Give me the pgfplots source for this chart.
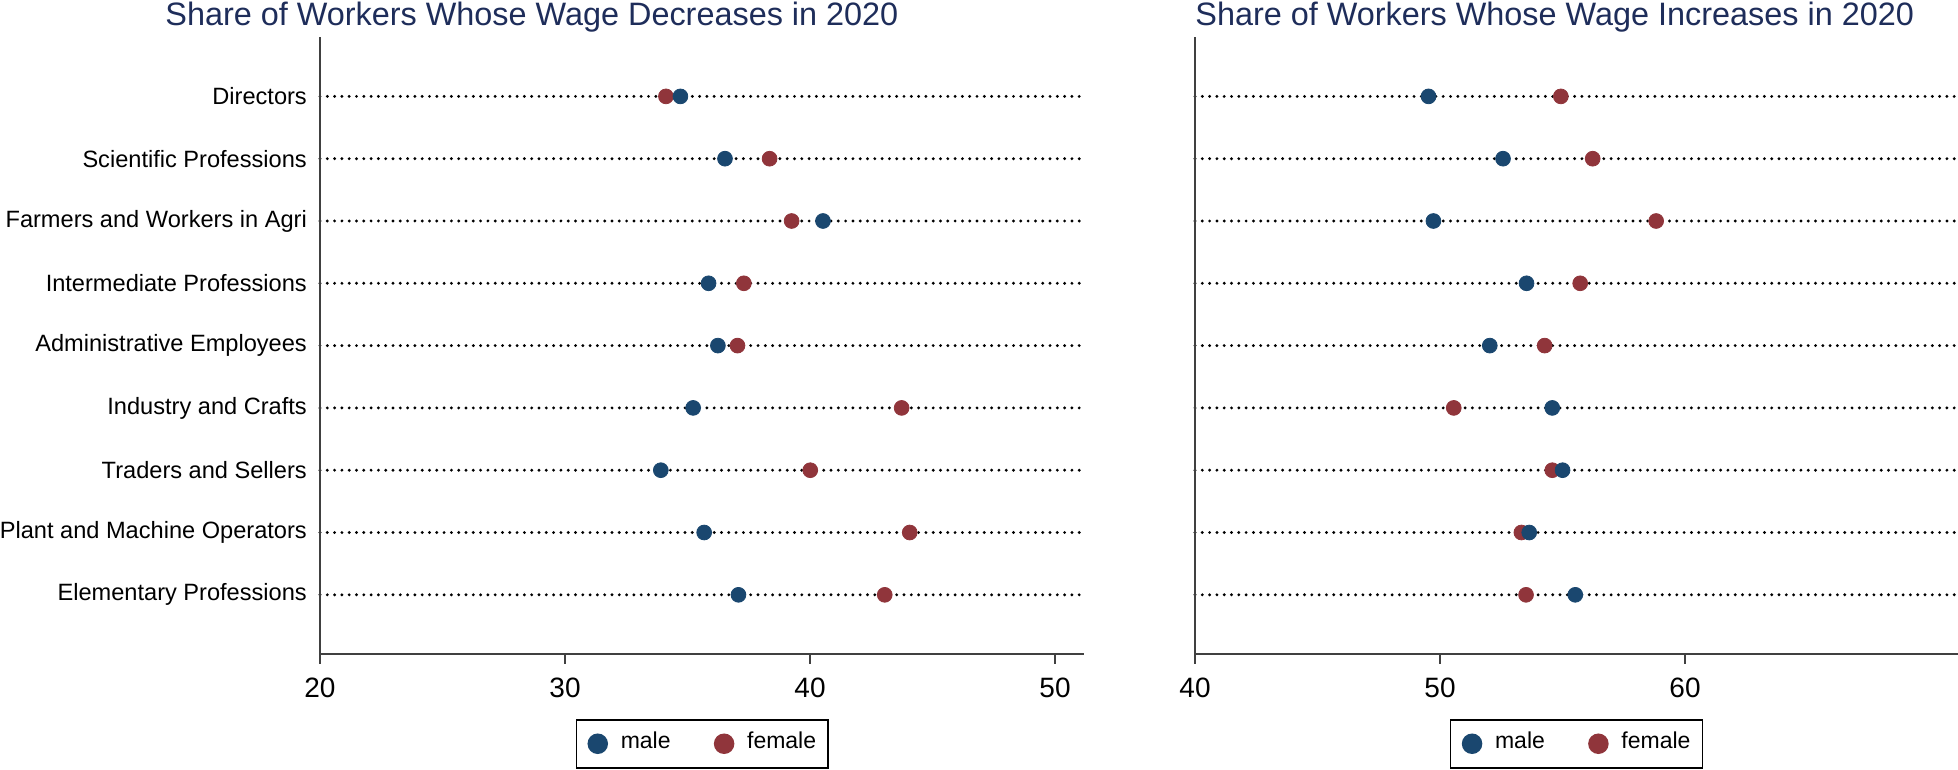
\documentclass[border=0pt]{standalone}
\usepackage{pgfplots}
\pgfplotsset{compat=1.18}
\usepackage{pgfplotstable}
\usepackage{fontspec}
\setmainfont{Liberation Sans}

\definecolor{navyS}{RGB}{26,71,111}
\definecolor{maroonS}{RGB}{144,53,59}
\definecolor{titleS}{RGB}{30,45,90}

% pos 9 = Directors (top) ... 1 = Elementary Professions (bottom)
\pgfplotstableread{
pos male female
9 34.71 34.12
8 36.53 38.35
7 40.53 39.25
6 35.86 37.30
5 36.24 37.04
4 35.23 43.74
3 33.91 40.01
2 35.68 44.07
1 37.08 43.05
}\decr

\pgfplotstableread{
pos male female
9 49.53 54.93
8 52.57 56.23
7 49.73 58.82
6 53.53 55.72
5 52.03 54.27
4 54.58 50.56
3 55.00 54.58
2 53.64 53.32
1 55.52 53.51
}\incr

\pgfplotsset{
  wagepanel/.style={
    scale only axis,
    height=308.4pt,
    ymin=0.05, ymax=9.95,
    ytick={1,...,9},
    axis x line=bottom, axis y line=left,
    axis line style={-, line width=1pt, black!75},
    tick align=outside,
    major tick length=5pt,
    xtick style={line width=1pt, black!75},
    ytick style={draw=none},
    ymajorgrids,
    y grid style={black, line width=1.6pt, dash pattern=on 0pt off 3.65pt, line cap=round},
    /pgf/number format/assume math mode=true,
    xticklabel style={font=\fontsize{14}{16}\selectfont, inner sep=0pt, anchor=north, yshift=-7pt},
    yticklabel style={font=\fontsize{11.8}{13}\selectfont, inner sep=0pt, anchor=east, xshift=-1.4pt},
    legend columns=2,
    reverse legend,
    legend style={at={(0.5,0)}, anchor=north, yshift=-32.5pt,
      draw=black, line width=0.75pt,
      inner xsep=6pt, inner ysep=6pt,
      nodes={inner sep=0pt, text depth=0pt, text height=0.52em},
      font=\fontsize{11.5}{13}\selectfont,
      /tikz/every odd column/.append style={column sep=5.5pt},
      /tikz/every even column/.append style={column sep=22pt}},
    legend image code/.code={
      \path[draw=none, fill=none] (0pt,-6pt) rectangle (10pt,6pt);
      \draw[mark size=4.75pt] plot coordinates {(4pt,0pt)};},
  }
}

\begin{document}
\begin{tikzpicture}
\useasboundingbox (0pt,0pt) rectangle (979pt,385pt);

\begin{axis}[wagepanel,
  at={(160pt,58pt)}, anchor=south west,
  width=382.2pt,
  xmin=20, xmax=51.2,
  xtick={20,30,40,50},
  yticklabels={Elementary Professions, Plant and Machine Operators, Traders and Sellers,
    Industry and Crafts, Administrative Employees, Intermediate Professions,
    Farmers and Workers in Agri, Scientific Professions, Directors},
]
\addplot[only marks, mark=*, mark size=3.7pt, color=maroonS] table[x=female, y=pos] {\decr};
\addlegendentry{female}
\addplot[only marks, mark=*, mark size=3.7pt, color=navyS] table[x=male, y=pos] {\decr};
\addlegendentry{male}
\end{axis}

\begin{axis}[wagepanel,
  at={(597.5pt,58pt)}, anchor=south west,
  width=381.5pt,
  xmin=40, xmax=71.14,
  xtick={40,50,60},
  yticklabels={},
]
\addplot[only marks, mark=*, mark size=3.7pt, color=maroonS] table[x=female, y=pos] {\incr};
\addlegendentry{female}
\addplot[only marks, mark=*, mark size=3.7pt, color=navyS] table[x=male, y=pos] {\incr};
\addlegendentry{male}
\end{axis}

\node[anchor=base west, inner sep=0pt, text=titleS, font=\fontsize{16.2}{19}\selectfont]
  at (82.5pt,372pt) {Share of Workers Whose Wage Decreases in 2020};
\node[anchor=base west, inner sep=0pt, text=titleS, font=\fontsize{16.2}{19}\selectfont]
  at (597.5pt,372pt) {Share of Workers Whose Wage Increases in 2020};
\end{tikzpicture}
\end{document}
